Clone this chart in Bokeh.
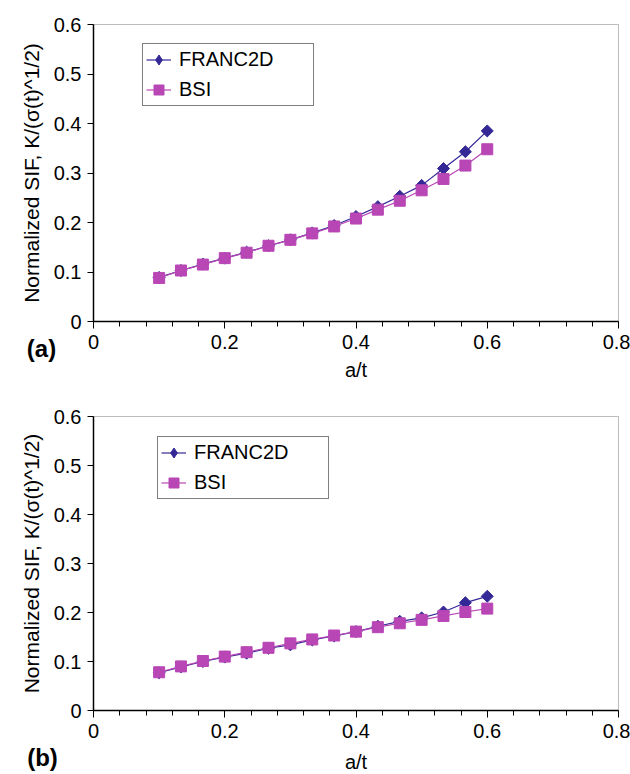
import math
from bokeh.plotting import figure
from bokeh.layouts import column
from bokeh.models import (FixedTicker, Label, Range1d, Legend, LegendItem,
                          BoxAnnotation)
from bokeh.embed import file_html
from bokeh.resources import INLINE

# ---- data ----
a_t = [0.1, 0.1333, 0.1667, 0.2, 0.2333, 0.2667, 0.3, 0.3333,
       0.3667, 0.4, 0.4333, 0.4667, 0.5, 0.5333, 0.5667, 0.6]

franc2d_a = [0.089, 0.103, 0.116, 0.128, 0.140, 0.153, 0.165, 0.179,
             0.194, 0.212, 0.232, 0.253, 0.275, 0.309, 0.343, 0.385]
bsi_a = [0.088, 0.103, 0.115, 0.128, 0.139, 0.153, 0.165, 0.178,
         0.192, 0.208, 0.226, 0.244, 0.265, 0.288, 0.315, 0.348]

franc2d_b = [0.077, 0.089, 0.100, 0.109, 0.117, 0.127, 0.134, 0.144,
             0.152, 0.161, 0.172, 0.182, 0.189, 0.201, 0.220, 0.233]
bsi_b = [0.078, 0.090, 0.101, 0.110, 0.119, 0.128, 0.137, 0.145,
         0.153, 0.161, 0.170, 0.178, 0.185, 0.193, 0.201, 0.208]

series_names = ["FRANC2D", "BSI"]
panel_tags = ["(a)", "(b)"]

x_ticks = [0, 0.2, 0.4, 0.6, 0.8]
x_tick_labels = ["0", "0.2", "0.4", "0.6", "0.8"]
x_minor_ticks = [0.04, 0.08, 0.12, 0.16, 0.24, 0.28, 0.32, 0.36,
                 0.44, 0.48, 0.52, 0.56, 0.64, 0.68, 0.72, 0.76]
y_ticks = [0, 0.1, 0.2, 0.3, 0.4, 0.5, 0.6]
y_tick_labels = ["0", "0.1", "0.2", "0.3", "0.4", "0.5", "0.6"]
x_min, x_max = 0, 0.8
y_min, y_max = 0, 0.6

x_title = "a/t"
y_title = "Normalized SIF, K/(\u03c3(t)^1/2)"

FONT = "Liberation Sans"
FS = "20px"
C_FRANC = "#332896"
C_BSI = "#b946b5"

W, H = 630, 387
PLOT_LEFT, PLOT_RIGHT = 93, 618   # pixel position of x_min / x_max


def make_panel(franc, bsi, tag, plot_top, plot_bottom, legend_xy, tag_xy,
               xlabel_standoff):
    # the frame covers the whole canvas; axes are pinned at the data origin
    xs = (PLOT_RIGHT - PLOT_LEFT) / (x_max - x_min)
    ys = (plot_bottom - plot_top) / (y_max - y_min)
    xr = Range1d(x_min - PLOT_LEFT / xs, x_max + (W - PLOT_RIGHT) / xs)
    yr = Range1d(y_min - (H - plot_bottom) / ys, y_max + plot_top / ys)

    p = figure(width=W, height=H, x_range=xr, y_range=yr,
               output_backend="svg", toolbar_location=None,
               min_border=0, min_border_left=0, min_border_right=0,
               min_border_top=0, min_border_bottom=0)
    p.xgrid.visible = False
    p.ygrid.visible = False
    p.outline_line_color = None
    p.background_fill_color = "white"
    p.border_fill_color = "white"

    p.add_layout(BoxAnnotation(left=x_min, right=x_max, bottom=y_min, top=y_max,
                               fill_color=None, fill_alpha=0,
                               line_color="#222222", line_width=1,
                               level="underlay"))

    xa = p.xaxis[0]
    xa.fixed_location = y_min
    xa.bounds = (x_min, x_max)
    xa.ticker = FixedTicker(ticks=x_ticks, minor_ticks=x_minor_ticks)
    xa.major_label_overrides = dict(zip(x_ticks, x_tick_labels))
    xa.major_tick_in = 0
    xa.major_tick_out = 7
    xa.minor_tick_in = 0
    xa.minor_tick_out = 5
    xa.major_label_standoff = 6
    xa.axis_label = x_title
    xa.axis_label_standoff = xlabel_standoff

    ya = p.yaxis[0]
    ya.fixed_location = x_min
    ya.bounds = (y_min, y_max)
    ya.ticker = FixedTicker(ticks=y_ticks)
    ya.major_label_overrides = dict(zip(y_ticks, y_tick_labels))
    ya.major_tick_in = 0
    ya.major_tick_out = 6
    ya.minor_tick_out = 0
    ya.minor_tick_in = 0
    ya.major_label_standoff = 6
    ya.axis_label = y_title
    ya.axis_label_standoff = 8

    for ax in (xa, ya):
        ax.axis_line_color = "black"
        ax.axis_line_width = 1.5
        ax.major_tick_line_color = "black"
        ax.minor_tick_line_color = "black"
        ax.major_label_text_font = FONT
        ax.major_label_text_font_size = FS
        ax.major_label_text_color = "black"
        ax.axis_label_text_font = FONT
        ax.axis_label_text_font_size = FS
        ax.axis_label_text_font_style = "normal"
        ax.axis_label_text_color = "black"
    ya.axis_label_text_font_size = "21px"

    l1 = p.line(a_t, franc, line_color=C_FRANC, line_width=1.2)
    p.scatter(a_t, franc, marker="square", angle=math.pi / 4, size=8.5,
              fill_color=C_FRANC, line_color=C_FRANC)
    # diamond marker shown only in the legend (legend glyphs ignore angle)
    k1 = p.scatter(a_t, franc, marker="diamond", size=0,
                   fill_color=C_FRANC, line_color=C_FRANC)
    l2 = p.line(a_t, bsi, line_color=C_BSI, line_width=1.2)
    s2 = p.scatter(a_t, bsi, marker="square", size=11,
                   fill_color=C_BSI, line_color=C_BSI)

    lg = Legend(items=[LegendItem(label=series_names[0], renderers=[l1, k1]),
                       LegendItem(label=series_names[1], renderers=[l2, s2])],
                location=legend_xy)
    lg.margin = 0
    lg.padding = 3
    lg.spacing = 5
    lg.glyph_width = 25
    lg.glyph_height = 25
    lg.label_height = 25
    lg.label_width = 131
    lg.label_standoff = 8
    lg.label_text_font = FONT
    lg.label_text_font_size = FS
    lg.label_text_color = "black"
    lg.label_text_baseline = "middle"
    lg.border_line_color = "black"
    lg.border_line_width = 1
    lg.background_fill_color = "white"
    lg.background_fill_alpha = 1
    p.add_layout(lg)

    p.add_layout(Label(x=tag_xy[0], y=tag_xy[1], x_units="screen", y_units="screen",
                       text=tag, text_align="center", text_baseline="middle",
                       text_font=FONT, text_font_size="24px",
                       text_font_style="bold", text_color="black"))
    return p


p1 = make_panel(franc2d_a, bsi_a, panel_tags[0], 24, 321, (142, 281), (41, 39), 7)
p2 = make_panel(franc2d_b, bsi_b, panel_tags[1], 29, 323, (157, 275), (42, 17), 10)

layout = column(p1, p2, spacing=0)
open("out.html", "w").write(file_html(layout, INLINE))
